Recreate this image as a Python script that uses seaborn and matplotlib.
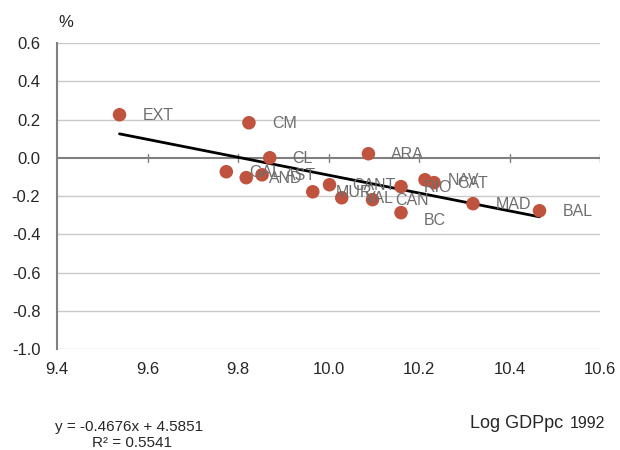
import pandas as pd
import numpy as np
import matplotlib
matplotlib.use("Agg")
import matplotlib.pyplot as plt
import seaborn as sns

# datos
regions = ["EXT", "CM", "CL", "GAL", "AND", "AST", "MUR", "CANT", "VAL",
           "ARA", "CAN", "RIO", "BC", "NAV", "CAT", "MAD", "BAL"]
log_gdppc = [9.538, 9.824, 9.870, 9.774, 9.818, 9.853, 9.965, 10.002, 10.029,
             10.088, 10.097, 10.160, 10.160, 10.213, 10.233, 10.319, 10.466]
growth = [0.225, 0.183, 0.000, -0.073, -0.104, -0.089, -0.178, -0.141, -0.209,
          0.021, -0.219, -0.151, -0.287, -0.115, -0.130, -0.240, -0.277]

slope = -0.4676
intercept = 4.5851
r2 = 0.5541

x_ticks = [9.4, 9.6, 9.8, 10.0, 10.2, 10.4, 10.6]
y_ticks = [0.6, 0.4, 0.2, 0.0, -0.2, -0.4, -0.6, -0.8, -1.0]

df = pd.DataFrame({"region": regions, "x": log_gdppc, "y": growth})

sns.set_style("white")
plt.rcParams["font.family"] = ["Liberation Sans", "DejaVu Sans"]

fig = plt.figure(figsize=(6.2, 4.5), dpi=100)
ax = fig.add_axes([0.092, 0.2244, 0.876, 0.68])

# rejilla horizontal
for yv in y_ticks:
    if yv == 0.0:
        continue
    ax.axhline(yv, color="#c9c9c9", lw=1.0, zorder=0)

# eje cero con marcas
ax.axhline(0, color="#808080", lw=1.5, zorder=1)
for xv in x_ticks[1:]:
    ax.plot([xv, xv], [-0.022, 0.022], color="#808080", lw=1.0, zorder=1)

# recta de regresion
xl = np.array([min(log_gdppc), max(log_gdppc)])
ax.plot(xl, slope * xl + intercept, color="black", lw=2.0, zorder=2)

sns.scatterplot(data=df, x="x", y="y", ax=ax, color="#c0533e", s=95,
                edgecolor="none", zorder=3, legend=False)

# BC va un poco mas abajo
dy = {"BC": -6}
for _, r in df.iterrows():
    ax.annotate(r["region"], (r["x"], r["y"]),
                xytext=(16.5, dy.get(r["region"], -0.7)),
                textcoords="offset points", va="center", ha="left",
                color="#6e6e6e", fontsize=11.5, zorder=4)

ax.set_xlim(9.4, 10.6)
ax.set_ylim(-1.0, 0.6)
ax.set_xticks(x_ticks)
ax.set_xticklabels([f"{v:.1f}" for v in x_ticks])
ax.set_yticks(y_ticks)
ax.set_yticklabels([f"{v:.1f}" for v in y_ticks])
ax.tick_params(axis="x", length=0, labelsize=12, pad=9)
ax.tick_params(axis="y", direction="in", length=4, color="#808080",
               labelsize=12, pad=12)
ax.set_xlabel("")
ax.set_ylabel("")

for side in ["top", "right", "bottom"]:
    ax.spines[side].set_visible(False)
ax.spines["left"].set_color("#808080")
ax.spines["left"].set_linewidth(1.5)

fig.text(0.094, 0.950, "%", fontsize=12, ha="left", va="center")
fig.text(0.758, 0.058, "Log GDPpc", fontsize=13, ha="left", va="center")
fig.text(0.919, 0.058, "1992", fontsize=11.5, ha="left", va="center")
fig.text(0.088, 0.051, f"y = {slope}x + {intercept}", fontsize=11,
         ha="left", va="center")
fig.text(0.149, 0.016, f"R² = {r2}", fontsize=11, ha="left", va="center")

fig.savefig("out.png", dpi=100)
